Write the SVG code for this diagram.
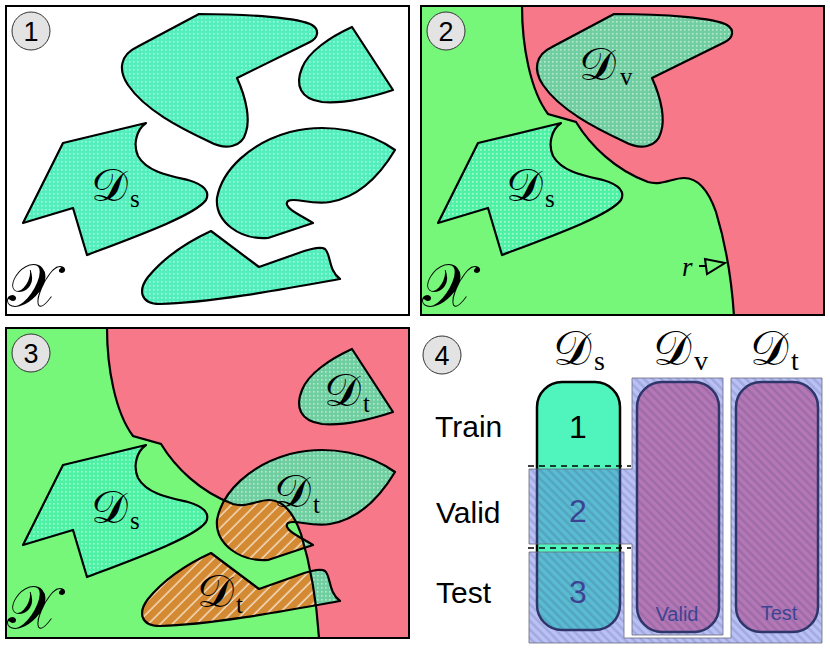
<svg xmlns="http://www.w3.org/2000/svg" width="830" height="648" viewBox="0 0 830 648">
<style>
.frame{fill:none;stroke:#000;stroke-width:2}
.blob{stroke:#000;stroke-width:2.2;stroke-linejoin:round}
.line{fill:none;stroke:#000;stroke-width:2.2}
.cal{font-family:"DejaVu Serif","Liberation Serif",serif;font-size:46px;fill:#000}
.hdr{font-size:48px}
.big{font-size:60px}
.sub{font-family:"Liberation Serif",serif;font-size:25px;fill:#000}
.hsub{font-size:28px}
.num{font-family:"Liberation Sans",Arial,sans-serif;font-size:27px;fill:#000;text-anchor:middle}
.lbl{font-family:"Liberation Sans",Arial,sans-serif;font-size:30px;fill:#000}
.badge{fill:#e3e3e3;stroke:#333;stroke-width:1}
.green{fill:#76f77a}
.pink{fill:#f67889}
.ov{fill:url(#ovl);stroke:#6a6a80;stroke-width:0.8}
.cap{stroke:#000;stroke-width:2.5}
</style>
<defs>
<pattern id="dw" width="4" height="4" patternUnits="userSpaceOnUse"><rect width="4" height="4" fill="#52eebc"/><rect x="1" y="1" width="1.6" height="1.6" fill="#fff" opacity="0.5"/></pattern>
<pattern id="dg" width="4" height="4" patternUnits="userSpaceOnUse"><rect width="4" height="4" fill="#4ef2a4"/><rect x="1" y="1" width="1.6" height="1.6" fill="#fff" opacity="0.5"/></pattern>
<pattern id="dp" width="4" height="4" patternUnits="userSpaceOnUse"><rect width="4" height="4" fill="#70cfa0"/><rect x="1" y="1" width="1.6" height="1.6" fill="#fff" opacity="0.5"/></pattern>
<pattern id="hatch" width="8.5" height="8.5" patternUnits="userSpaceOnUse" patternTransform="rotate(45)"><rect width="8.5" height="8.5" fill="#d48a33"/><line x1="4" y1="0" x2="4" y2="8.5" stroke="#fff" stroke-width="1.5" opacity="0.7"/></pattern>
<pattern id="ovl" width="6" height="6" patternUnits="userSpaceOnUse" patternTransform="rotate(-45)"><rect width="6" height="6" fill="#6676ec" opacity="0.45"/><line x1="1.5" y1="0" x2="1.5" y2="6" stroke="#303868" stroke-width="2.2" opacity="0.2"/></pattern>
<path id="sA" d="M199,14 C250,14 300,18 312,25 C320,30 318,38 310,42 L237,78 C247,100 250,120 246,132 C242,148 225,150 210,142 C180,128 145,110 128,85 C118,70 120,55 137,47 Z"/>
<path id="sB" d="M352,27 L393,90 C375,96 345,104 322,102 C300,99 295,85 302,68 C308,52 330,37 352,27 Z"/>
<path id="sS" d="M63,143 L146,123 C136,130 133,145 138,156 C147,172 170,176 188,180 C205,185 210,192 206,200 C195,215 140,235 87,255 L73,208 L23,223 Z"/>
<path id="sD" d="M395,150 C370,132 330,122 290,132 C250,143 222,170 217,198 C215,222 240,240 268,238 L313,223 C300,215 282,207 288,201 C295,197 310,205 330,202 C360,197 380,175 395,150 Z"/>
<path id="sE" d="M211,231 L259,267 L293,255 C305,250 320,246 325,249 C331,254 328,270 340,279 C290,288 210,303 160,304 C140,304 138,290 148,277 C162,260 185,243 211,231 Z"/>
<path id="bnd" d="M107,6 C107,45 115,90 133,114 L161,122 C175,145 200,170 233,182 C247,186 257,178 269,178 C285,178 295,195 301,212 C311,245 317,285 319,316"/>
<clipPath id="green3"><path d="M6,328 L107,328 C107,367 115,412 133,436 L161,444 C175,467 200,492 233,504 C247,508 257,500 269,500 C285,500 295,517 301,534 C311,567 317,607 319,638 L6,638 Z"/></clipPath>
</defs>

<g id="panel1">
<rect x="6" y="6" width="403" height="309" fill="#fff"/>
<use href="#sA" class="blob" fill="url(#dw)"/>
<use href="#sB" class="blob" fill="url(#dw)"/>
<use href="#sS" class="blob" fill="url(#dw)"/>
<use href="#sD" class="blob" fill="url(#dw)"/>
<use href="#sE" class="blob" fill="url(#dw)"/>
<text class="cal" x="91" y="201">𝒟</text><text class="sub" x="130" y="207">s</text>
<text class="cal big" x="7" y="306">𝒳</text>
<circle class="badge" cx="31" cy="31" r="19"/><text class="num" x="31" y="41">1</text>
<rect class="frame" x="6" y="6" width="403" height="309"/>
</g>

<g id="panel2">
<rect x="421" y="6" width="403" height="309" class="green"/>
<path class="pink" d="M522,6 C522,45 530,90 548,114 L576,122 C590,145 615,170 648,182 C662,186 672,178 684,178 C700,178 710,195 716,212 C726,245 732,285 734,315 L824,315 L824,6 Z"/>
<use href="#bnd" class="line" transform="translate(415,0)"/>
<use href="#sA" class="blob" fill="url(#dp)" transform="translate(415,0)"/>
<use href="#sS" class="blob" fill="url(#dg)" transform="translate(415,0)"/>
<text class="cal" x="579" y="80">𝒟</text><text class="sub" x="620" y="85">v</text>
<text class="cal" x="506" y="201">𝒟</text><text class="sub" x="545" y="207">s</text>
<text class="cal big" x="422" y="306">𝒳</text>
<text x="682" y="276" style="font-family:'Liberation Serif',serif;font-style:italic;font-size:27px">r</text>
<line x1="699" y1="266" x2="705" y2="266" stroke="#000" stroke-width="2"/>
<polygon points="705,259 707,274 725,263" fill="none" stroke="#000" stroke-width="2"/>
<circle class="badge" cx="446" cy="31" r="19"/><text class="num" x="446" y="41">2</text>
<rect class="frame" x="421" y="6" width="403" height="309"/>
</g>

<g id="panel3">
<rect x="6" y="328" width="403" height="310" class="green"/>
<path class="pink" d="M107,328 C107,367 115,412 133,436 L161,444 C175,467 200,492 233,504 C247,508 257,500 269,500 C285,500 295,517 301,534 C311,567 317,607 319,638 L409,638 L409,328 Z"/>
<use href="#sS" class="blob" fill="url(#dg)" transform="translate(0,322)"/>
<use href="#sB" class="blob" fill="url(#dp)" transform="translate(0,322)"/>
<use href="#sD" fill="url(#dp)" transform="translate(0,322)"/>
<use href="#sE" fill="url(#dp)" transform="translate(0,322)"/>
<g clip-path="url(#green3)">
<use href="#sD" fill="url(#hatch)" transform="translate(0,322)"/>
<use href="#sE" fill="url(#hatch)" transform="translate(0,322)"/>
</g>
<use href="#sD" class="blob" fill="none" transform="translate(0,322)"/>
<use href="#sE" class="blob" fill="none" transform="translate(0,322)"/>
<use href="#bnd" class="line" transform="translate(0,322)"/>
<text class="cal" x="91" y="523">𝒟</text><text class="sub" x="130" y="529">s</text>
<text class="cal" x="324" y="406">𝒟</text><text class="sub" x="363" y="412">t</text>
<text class="cal" x="274" y="507">𝒟</text><text class="sub" x="313" y="513">t</text>
<text class="cal" x="197" y="607">𝒟</text><text class="sub" x="236" y="613">t</text>
<text class="cal big" x="7" y="628">𝒳</text>
<circle class="badge" cx="31" cy="353" r="19"/><text class="num" x="31" y="363">3</text>
<rect class="frame" x="6" y="328" width="403" height="310"/>
</g>

<g id="panel4">
<circle class="badge" cx="442" cy="355" r="19"/><text class="num" x="442" y="365">4</text>
<text class="cal hdr" x="553" y="365">𝒟</text><text class="sub hsub" x="594" y="370">s</text>
<text class="cal hdr" x="653" y="365">𝒟</text><text class="sub hsub" x="694" y="370">v</text>
<text class="cal hdr" x="750" y="365">𝒟</text><text class="sub hsub" x="791" y="370">t</text>
<text class="lbl" x="435" y="437">Train</text>
<text class="lbl" x="436" y="523">Valid</text>
<text class="lbl" x="436" y="603">Test</text>
<g id="capsules">
<rect class="cap" x="537" y="382" width="83" height="248" rx="25" fill="#50f5bd"/>
<rect class="cap" x="637" y="382" width="82" height="250" rx="25" fill="#f67889"/>
<rect class="cap" x="736" y="382" width="82" height="250" rx="25" fill="#f67889"/>
<text class="num" x="578" y="438" style="font-size:32px">1</text>
<text class="num" x="578" y="522" style="font-size:32px;fill:#1a1a50">2</text>
<text class="num" x="578" y="603" style="font-size:32px;fill:#1a1a50">3</text>
<text class="num" x="677" y="621" style="font-size:20px;fill:#1a1a50">Valid</text>
<text class="num" x="779" y="620" style="font-size:20px;fill:#1a1a50">Test</text>
</g>
<g id="overlays">
<path class="ov" d="M529,469 H632 V378 H723 V635 H632 V544 H529 Z"/>
<path class="ov" d="M529,552 H624 V638 H731 V378 H822 V643 H529 Z"/>
</g>
<line x1="528" y1="466" x2="631" y2="466" stroke="#000" stroke-width="1.5" stroke-dasharray="6,5"/>
<line x1="528" y1="548" x2="631" y2="548" stroke="#000" stroke-width="1.5" stroke-dasharray="6,5"/>
</g>
</svg>
